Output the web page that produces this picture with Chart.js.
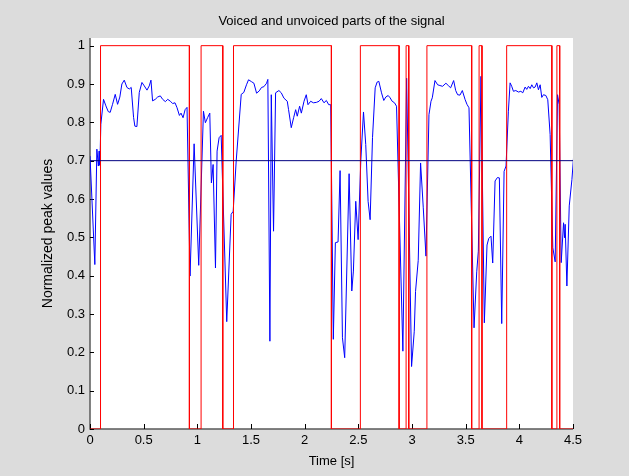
<!DOCTYPE html>
<html>
<head>
<meta charset="utf-8">
<title>Voiced and unvoiced parts of the signal</title>
<style>
  body { margin: 0; background: #dcdcdc; }
  canvas { display: block; }
</style>
</head>
<body>
<canvas id="myChart" width="629" height="476"></canvas>

<script src="https://cdn.jsdelivr.net/npm/chart.js"></script>
<script>
// normalized peak value per frame
const frameTime = [
  0.000, 0.045, 0.064, 0.078, 0.085, 0.092, 0.101, 0.126, 0.148, 0.170,
  0.188, 0.210, 0.235, 0.257, 0.278, 0.297, 0.319, 0.344, 0.366, 0.384,
  0.406, 0.418, 0.437, 0.459, 0.484, 0.506, 0.531, 0.552, 0.568, 0.583,
  0.608, 0.630, 0.655, 0.677, 0.702, 0.724, 0.749, 0.770, 0.792, 0.811,
  0.833, 0.848, 0.867, 0.886, 0.904, 0.932, 0.970, 1.013, 1.057, 1.075,
  1.097, 1.116, 1.131, 1.147, 1.169, 1.184, 1.203, 1.222, 1.274, 1.315,
  1.334, 1.362, 1.409, 1.433, 1.458, 1.477, 1.505, 1.527, 1.552, 1.577,
  1.598, 1.620, 1.645, 1.657, 1.676, 1.689, 1.710, 1.729, 1.760, 1.782,
  1.807, 1.838, 1.850, 1.875, 1.897, 1.916, 1.931, 1.953, 1.969, 1.994,
  2.015, 2.031, 2.056, 2.081, 2.109, 2.134, 2.155, 2.180, 2.202, 2.224,
  2.243, 2.267, 2.286, 2.311, 2.330, 2.352, 2.373, 2.414, 2.439, 2.454,
  2.476, 2.498, 2.523, 2.548, 2.569, 2.591, 2.610, 2.632, 2.657, 2.675,
  2.691, 2.716, 2.737, 2.756, 2.778, 2.796, 2.815, 2.837, 2.856, 2.915,
  2.950, 2.996, 3.021, 3.033, 3.058, 3.080, 3.105, 3.130, 3.158, 3.177,
  3.189, 3.214, 3.239, 3.260, 3.285, 3.316, 3.338, 3.360, 3.388, 3.407,
  3.425, 3.447, 3.469, 3.494, 3.512, 3.531, 3.578, 3.603, 3.618, 3.643,
  3.674, 3.699, 3.715, 3.736, 3.752, 3.774, 3.796, 3.814, 3.836, 3.858,
  3.876, 3.898, 3.914, 3.929, 3.945, 3.967, 3.992, 4.014, 4.032, 4.054,
  4.069, 4.085, 4.101, 4.116, 4.132, 4.147, 4.163, 4.178, 4.194, 4.209,
  4.225, 4.247, 4.265, 4.287, 4.312, 4.334, 4.356, 4.371, 4.390, 4.412,
  4.421, 4.427, 4.443, 4.465, 4.490, 4.505
];
const peakValue = [
  0.712, 0.429, 0.730, 0.686, 0.725, 0.688, 0.795, 0.860, 0.843, 0.828,
  0.826, 0.847, 0.873, 0.847, 0.866, 0.900, 0.910, 0.891, 0.887, 0.891,
  0.813, 0.790, 0.789, 0.878, 0.904, 0.895, 0.884, 0.895, 0.910, 0.856,
  0.860, 0.866, 0.869, 0.860, 0.854, 0.860, 0.855, 0.849, 0.851, 0.838,
  0.818, 0.824, 0.812, 0.833, 0.839, 0.399, 0.744, 0.427, 0.829, 0.799,
  0.813, 0.824, 0.642, 0.690, 0.420, 0.725, 0.760, 0.766, 0.280, 0.560,
  0.568, 0.699, 0.873, 0.878, 0.898, 0.911, 0.906, 0.902, 0.876, 0.882,
  0.891, 0.893, 0.902, 0.912, 0.229, 0.872, 0.516, 0.877, 0.883, 0.877,
  0.863, 0.855, 0.833, 0.786, 0.812, 0.833, 0.816, 0.842, 0.824, 0.855,
  0.872, 0.846, 0.855, 0.851, 0.852, 0.855, 0.862, 0.851, 0.857, 0.846,
  0.846, 0.234, 0.486, 0.488, 0.674, 0.238, 0.186, 0.666, 0.360, 0.412,
  0.594, 0.494, 0.700, 0.827, 0.742, 0.594, 0.546, 0.760, 0.890, 0.905,
  0.907, 0.877, 0.857, 0.866, 0.870, 0.864, 0.855, 0.851, 0.842, 0.203,
  0.915, 0.163, 0.255, 0.359, 0.440, 0.694, 0.577, 0.451, 0.820, 0.855,
  0.864, 0.909, 0.898, 0.896, 0.894, 0.902, 0.896, 0.890, 0.909, 0.883,
  0.872, 0.871, 0.883, 0.860, 0.847, 0.838, 0.264, 0.410, 0.464, 0.920,
  0.277, 0.480, 0.497, 0.503, 0.433, 0.647, 0.656, 0.655, 0.275, 0.672,
  0.686, 0.829, 0.903, 0.894, 0.881, 0.883, 0.879, 0.881, 0.877, 0.892,
  0.886, 0.894, 0.888, 0.898, 0.890, 0.892, 0.903, 0.885, 0.898, 0.865,
  0.872, 0.870, 0.859, 0.768, 0.473, 0.436, 0.872, 0.846, 0.434, 0.538,
  0.499, 0.534, 0.373, 0.582, 0.651, 0.708
];

// voiced segments (red = 1 inside, 0 outside)
const voicedStart = [0.098, 1.035, 1.337, 2.519, 2.945, 3.139, 3.625, 3.882, 4.350];
const voicedEnd   = [0.926, 1.237, 2.249, 2.880, 2.970, 3.556, 3.652, 4.303, 4.376];

const threshold = 0.7;
const tStart = 0;
const tEnd = 4.5;

const xTicks = [0, 0.5, 1, 1.5, 2, 2.5, 3, 3.5, 4, 4.5];
const xTickLabels = ['0', '0.5', '1', '1.5', '2', '2.5', '3', '3.5', '4', '4.5'];
const yTicks = [0, 0.1, 0.2, 0.3, 0.4, 0.5, 0.6, 0.7, 0.8, 0.9, 1];
const yTickLabels = ['0', '0.1', '0.2', '0.3', '0.4', '0.5', '0.6', '0.7', '0.8', '0.9', '1'];

const peakPoints = frameTime.map((t, i) => ({ x: t, y: peakValue[i] }));

const voicedPoints = [{ x: tStart, y: 0 }];
voicedStart.forEach((s, i) => {
  voicedPoints.push({ x: s, y: 0 }, { x: s, y: 1 }, { x: voicedEnd[i], y: 1 }, { x: voicedEnd[i], y: 0 });
});
voicedPoints.push({ x: tEnd, y: 0 });

const thresholdPoints = [{ x: tStart, y: threshold }, { x: tEnd, y: threshold }];

const FONT = "'Liberation Sans', Arial, sans-serif";

// matlab look: grey figure, white axes, inward ticks
const matlabAxes = {
  id: 'matlabAxes',
  beforeDraw(chart) {
    const { ctx, chartArea: a } = chart;
    ctx.save();
    ctx.fillStyle = '#dcdcdc';
    ctx.fillRect(0, 0, chart.width, chart.height);
    ctx.fillStyle = '#ffffff';
    ctx.fillRect(a.left, a.top, a.right - a.left, a.bottom - a.top);
    ctx.restore();
  },
  beforeDatasetsDraw(chart) {
    const { ctx, chartArea: a, scales } = chart;
    ctx.save();
    ctx.strokeStyle = '#5a5a5a';
    ctx.lineWidth = 1.5;
    ctx.beginPath();
    ctx.moveTo(a.left, a.top);
    ctx.lineTo(a.left, a.bottom);
    ctx.lineTo(a.right, a.bottom);
    ctx.stroke();

    ctx.strokeStyle = '#000';
    ctx.lineWidth = 1;
    ctx.beginPath();
    xTicks.forEach(v => {
      const x = Math.round(scales.x.getPixelForValue(v)) + 0.5;
      ctx.moveTo(x, a.bottom);
      ctx.lineTo(x, a.bottom - 5);
    });
    yTicks.forEach(v => {
      const y = Math.round(scales.y.getPixelForValue(v)) + 0.5;
      ctx.moveTo(a.left, y);
      ctx.lineTo(a.left + 4, y);
    });
    ctx.stroke();
    ctx.restore();
  }
};

const config = {
  type: 'line',
  data: {
    datasets: [
      {
        label: 'threshold',
        data: thresholdPoints,
        borderColor: '#000080',
        borderWidth: 1,
        pointRadius: 0,
        order: 1
      },
      {
        label: 'voiced',
        data: voicedPoints,
        borderColor: '#ff0000',
        borderWidth: 1,
        pointRadius: 0,
        order: 2
      },
      {
        label: 'peak',
        data: peakPoints,
        borderColor: '#0000ff',
        borderWidth: 1,
        pointRadius: 0,
        order: 3
      }
    ]
  },
  options: {
    responsive: false,
    animation: false,
    events: [],
    layout: { padding: { left: 0, right: 56, top: 0, bottom: 0 } },
    plugins: {
      legend: { display: false },
      tooltip: { enabled: false },
      title: {
        display: true,
        text: 'Voiced and unvoiced parts of the signal',
        fullSize: false,
        color: '#000',
        font: { family: FONT, size: 13, weight: 'normal' },
        padding: { top: 14, bottom: 8.4 }
      }
    },
    scales: {
      x: {
        type: 'linear',
        min: tStart,
        max: tEnd,
        afterBuildTicks: s => { s.ticks = xTicks.map(v => ({ value: v })); },
        afterFit: s => { s.height = 47; },
        grid: { display: false, drawTicks: false },
        border: { display: false },
        ticks: {
          color: '#000',
          padding: 4,
          maxRotation: 0,
          autoSkip: false,
          font: { family: FONT, size: 13 },
          callback: v => xTickLabels[xTicks.indexOf(v)]
        },
        title: {
          display: true,
          text: 'Time [s]',
          color: '#000',
          font: { family: FONT, size: 13 },
          padding: { top: 0, bottom: 7 }
        }
      },
      y: {
        type: 'linear',
        min: 0,
        max: 1.02,
        afterBuildTicks: s => { s.ticks = yTicks.map(v => ({ value: v })); },
        afterFit: s => { s.width = 90; },
        grid: { display: false, drawTicks: false },
        border: { display: false },
        ticks: {
          color: '#000',
          padding: 5,
          autoSkip: false,
          font: { family: FONT, size: 13 },
          callback: v => yTickLabels[yTicks.indexOf(v)]
        },
        title: {
          display: true,
          text: 'Normalized peak values',
          color: '#000',
          font: { family: FONT, size: 14 },
          padding: { top: 40, bottom: 0 }
        }
      }
    }
  },
  plugins: [matlabAxes]
};

const myChart = new Chart(document.getElementById('myChart'), config);
</script>
</body>
</html>
